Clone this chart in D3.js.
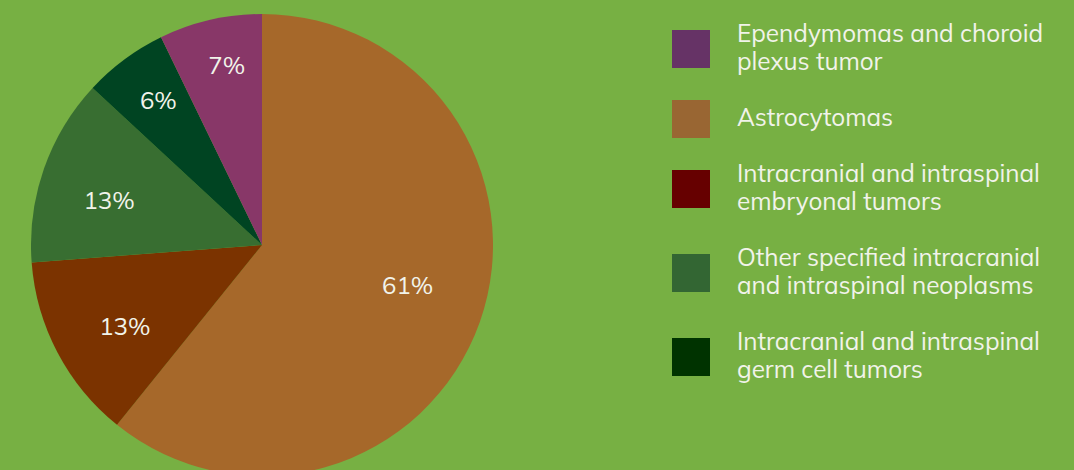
<!DOCTYPE html>
<html><head><meta charset="utf-8">
<script src="https://cdn.jsdelivr.net/npm/d3@7"></script>
<style>
html,body{margin:0;padding:0;background:#77b043;}
svg{display:block;}
</style></head>
<body>
<svg id="chart" width="1074" height="470"></svg>
<script>
// Data (clockwise from 12 o'clock)
const categories = [
  "Astrocytomas",
  "Intracranial and intraspinal embryonal tumors",
  "Other specified intracranial and intraspinal neoplasms",
  "Intracranial and intraspinal germ cell tumors",
  "Ependymomas and choroid plexus tumor"
];
const values = [60.8, 13.0, 13.1, 5.9, 7.2];
const percentLabels = ["61%", "13%", "13%", "6%", "7%"];
const sliceColors = ["#a6682a", "#7b3300", "#386e31", "#004422", "#883768"];

// Legend (top to bottom)
const legendLabels = [
  ["Ependymomas and choroid", "plexus tumor"],
  ["Astrocytomas"],
  ["Intracranial and intraspinal", "embryonal tumors"],
  ["Other specified intracranial", "and intraspinal neoplasms"],
  ["Intracranial and intraspinal", "germ cell tumors"]
];
const legendColors = ["#663366", "#996633", "#660000", "#336633", "#003300"];

const svg = d3.select("#chart");
const cx = 262, cy = 245, R = 231;
const font = "Mulish, Lato, 'Open Sans', sans-serif";
const textColor = "#f1f3ea";

const pie = d3.pie().sort(null).value(d => d)(values);
const arc = d3.arc().innerRadius(0).outerRadius(R);

const g = svg.append("g").attr("transform", `translate(${cx},${cy})`);
g.selectAll("path").data(pie).join("path")
  .attr("d", arc)
  .attr("fill", (d, i) => sliceColors[i]);

// label placement: smaller slices get labels further out
const total = d3.sum(values);
const labelR = d3.scaleLinear().domain([6, 7.2, 13, 61]).range([0.77 * R, 0.79 * R, 0.69 * R, 0.655 * R]).clamp(true);
const labelRot = d3.scaleLinear().domain([6, 7.2, 13, 61]).range([0.9, 1.8, -2.9, -3.7]).clamp(true);
g.selectAll("text").data(pie).join("text")
  .attr("transform", d => {
    const share = d.value / total * 100;
    const r = labelR(share);
    const a = (d.startAngle + d.endAngle) / 2 + labelRot(share) * Math.PI / 180;
    return `translate(${r * Math.sin(a)},${-r * Math.cos(a)})`;
  })
  .attr("text-anchor", "middle")
  .attr("dy", "0.35em")
  .attr("fill", textColor)
  .style("font-family", font)
  .style("font-size", "24px")
  .text((d, i) => percentLabels[i]);

// Legend
const lineH = 28;
const legX = 672, textX = 737, sw = 38;
let baseline = 42;
const leg = svg.append("g");
legendLabels.forEach((lines, i) => {
  const midBase = baseline + (lines.length - 1) * lineH / 2;
  leg.append("rect")
    .attr("x", legX).attr("y", midBase - 7 - sw / 2)
    .attr("width", sw).attr("height", sw)
    .attr("fill", legendColors[i]);
  const t = leg.append("text")
    .attr("x", textX).attr("y", baseline)
    .attr("fill", textColor)
    .style("font-family", font)
    .style("font-size", "24.3px");
  lines.forEach((ln, j) => {
    t.append("tspan").attr("x", textX).attr("y", baseline + j * lineH).text(ln);
  });
  baseline += (lines.length + 1) * lineH;
});
</script>
</body></html>
